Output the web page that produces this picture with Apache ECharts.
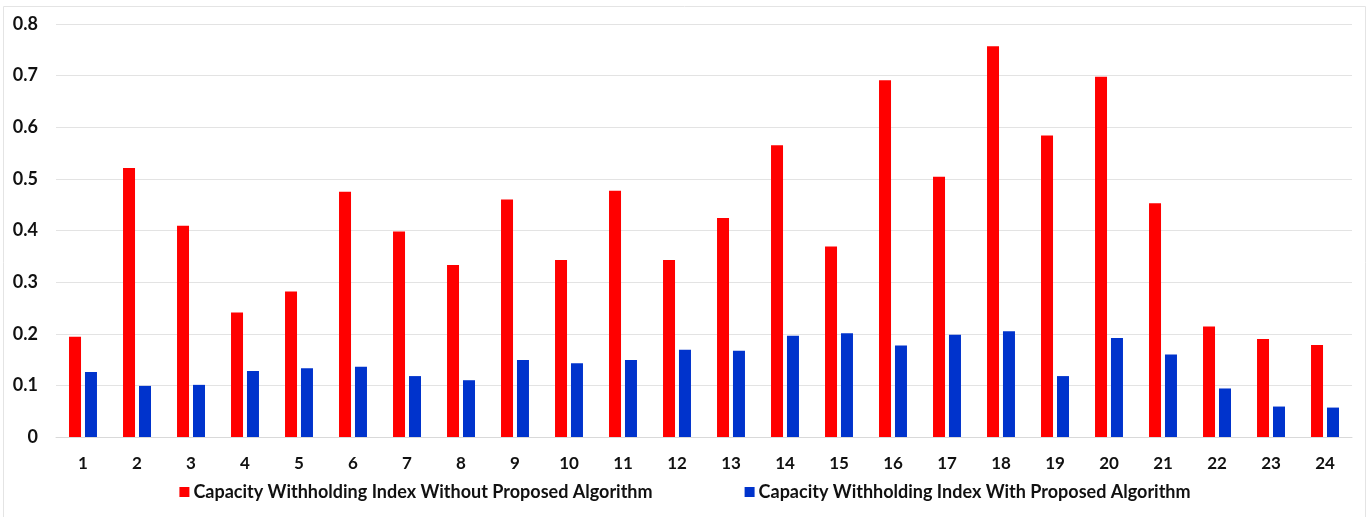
<!DOCTYPE html>
<html>
<head>
<meta charset="utf-8">
<script src="https://cdn.jsdelivr.net/npm/echarts@6/dist/echarts.min.js"></script>
<style>
  html, body { margin: 0; padding: 0; background: #ffffff; }
  #chart { width: 1370px; height: 517px; }
</style>
</head>
<body>
<div id="chart"></div>
<script>
// Hours of the day
const categories = ['1','2','3','4','5','6','7','8','9','10','11','12','13','14','15','16','17','18','19','20','21','22','23','24'];

const withoutAlgorithm = [0.194, 0.521, 0.409, 0.241, 0.282, 0.475, 0.398, 0.333, 0.460, 0.343, 0.477, 0.343,
                          0.424, 0.565, 0.369, 0.691, 0.504, 0.757, 0.584, 0.698, 0.453, 0.214, 0.190, 0.178];
const withAlgorithm = [0.126, 0.099, 0.101, 0.128, 0.133, 0.136, 0.118, 0.110, 0.149, 0.143, 0.149, 0.169,
                       0.167, 0.196, 0.201, 0.177, 0.198, 0.205, 0.118, 0.192, 0.160, 0.094, 0.059, 0.057];

const seriesNames = [
  'Capacity Withholding Index Without Proposed Algorithm',
  'Capacity Withholding Index With Proposed Algorithm'
];

const FONT = 'Lato, "Open Sans", sans-serif';

const chart = echarts.init(document.getElementById('chart'), null, { renderer: 'canvas' });
chart.setOption({
  backgroundColor: '#ffffff',
  animation: false,
  graphic: [{
    type: 'rect',
    shape: { x: 3.5, y: 6.5, width: 1362, height: 530 },
    style: { fill: 'none', stroke: '#e4e4e4', lineWidth: 1 },
    silent: true
  }],
  grid: { left: 56, right: 18, top: 24, bottom: 80, containLabel: false },
  legend: {
    bottom: 11,
    left: 'center',
    itemWidth: 10,
    itemHeight: 10,
    itemGap: 92,
    icon: 'rect',
    textStyle: { fontFamily: FONT, fontWeight: 'bold', fontSize: 18, color: '#111111', padding: [0, 0, 0, -1] },
    data: seriesNames
  },
  xAxis: {
    type: 'category',
    data: categories,
    axisLine: { show: true, lineStyle: { color: '#d9d9d9', width: 1 } },
    axisTick: { show: false },
    axisLabel: { fontFamily: FONT, fontWeight: 'bold', fontSize: 17, color: '#111111', margin: 18 }
  },
  yAxis: {
    type: 'value',
    min: 0,
    max: 0.8,
    interval: 0.1,
    axisLine: { show: false },
    axisTick: { show: false },
    splitLine: { lineStyle: { color: '#e3e3e3', width: 1 } },
    axisLabel: {
      fontFamily: FONT, fontWeight: 'bold', fontSize: 18, color: '#111111', margin: 18,
      formatter: v => (v === 0 ? '0' : String(Math.round(v * 10) / 10))
    }
  },
  series: [
    {
      name: seriesNames[0],
      type: 'bar',
      data: withoutAlgorithm,
      barWidth: 12,
      barGap: '33%',
      itemStyle: { color: '#ff0000' }
    },
    {
      name: seriesNames[1],
      type: 'bar',
      data: withAlgorithm,
      barWidth: 12,
      itemStyle: { color: '#0033cc' }
    }
  ]
});
</script>
</body>
</html>
